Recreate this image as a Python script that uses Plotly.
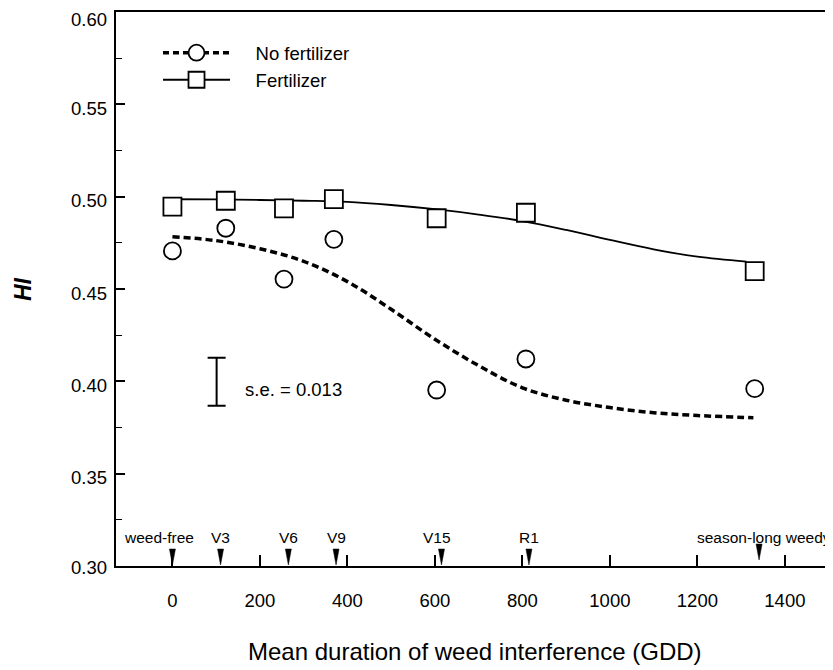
import plotly.graph_objects as go

# ---------------- data ----------------
gdd = [0, 122, 255, 369, 604, 808, 1331]
hi_no_fert = [0.4706, 0.4829, 0.4554, 0.4769, 0.3953, 0.4121, 0.3960]
hi_fert = [0.4946, 0.4978, 0.4937, 0.4987, 0.4883, 0.4913, 0.4597]

# fitted curves
fit_fert_x = [0, 100, 200, 300, 400, 500, 600, 700, 800, 900, 1000, 1100, 1200, 1312]
fit_fert_y = [0.4986, 0.4985, 0.4982, 0.4978, 0.4972, 0.4955, 0.4932, 0.4903, 0.4868,
              0.4820, 0.4766, 0.4715, 0.4675, 0.4648]
fit_nofert_x = [0, 100, 200, 300, 400, 500, 600, 700, 800, 900, 1000, 1100, 1200, 1328]
fit_nofert_y = [0.4783, 0.4762, 0.4718, 0.4650, 0.4540, 0.4390, 0.4228, 0.4085, 0.3965,
                0.3898, 0.3858, 0.3830, 0.3815, 0.3803]

# crop stages
stage_labels = ["weed-free", "V3", "V6", "V9", "V15", "R1", "season-long weedy"]
stage_gdd = [0, 110, 265, 374, 615, 815, 1341]

# standard error
se_value = 0.013
se_x = [101]
se_center = [0.3998]

x_ticks = [0, 200, 400, 600, 800, 1000, 1200, 1400]
y_ticks = [0.30, 0.35, 0.40, 0.45, 0.50, 0.55, 0.60]

# ---------------- style ----------------
FONT = "Liberation Sans, Arial, Helvetica, sans-serif"
label_xshift = [-13, 0, 0, 0, -4, 0, 5]
tip_lift = [0, 0, 0, 0, 0, 0, 5]
ytick_yshift = [-1, -4, -4, -4, -4, -4, -7]
PAD = "\u00a0" * 4

fig = go.Figure()

# fitted curves
fig.add_trace(go.Scatter(
    x=fit_nofert_x, y=fit_nofert_y, mode="lines", line_shape="spline",
    line=dict(color="black", width=3.5, dash="7px,4px"),
    showlegend=False, hoverinfo="skip"))
fig.add_trace(go.Scatter(
    x=fit_fert_x, y=fit_fert_y, mode="lines", line_shape="spline",
    line=dict(color="black", width=1.8),
    showlegend=False, hoverinfo="skip"))

# observed points
fig.add_trace(go.Scatter(
    x=gdd, y=hi_no_fert, mode="markers", name="No fertilizer",
    marker=dict(symbol="circle", size=17, color="white",
                line=dict(color="black", width=1.8)),
    showlegend=False))
fig.add_trace(go.Scatter(
    x=gdd, y=hi_fert, mode="markers", name="Fertilizer",
    marker=dict(symbol="square", size=18, color="white",
                line=dict(color="black", width=1.8)),
    showlegend=False))

# legend-only entries
fig.add_trace(go.Scatter(
    x=[None], y=[None], mode="lines+markers", name=PAD + "No fertilizer",
    line=dict(color="black", width=3.5, dash="6px,4px"),
    marker=dict(symbol="circle", size=17, color="white",
                line=dict(color="black", width=1.8))))
fig.add_trace(go.Scatter(
    x=[None], y=[None], mode="lines+markers", name=PAD + "Fertilizer",
    line=dict(color="black", width=1.8),
    marker=dict(symbol="square", size=18, color="white",
                line=dict(color="black", width=1.8))))

# s.e. bar
fig.add_trace(go.Scatter(
    x=se_x, y=se_center, mode="markers", marker=dict(size=0.1, color="rgba(0,0,0,0)"),
    error_y=dict(type="constant", value=se_value, color="black", thickness=2, width=9),
    showlegend=False, hoverinfo="skip"))

annotations = [
    dict(x=se_x[0], y=se_center[0], xref="x", yref="y", text=f"s.e. = {se_value:.3f}",
         showarrow=False, xanchor="left", yanchor="middle", xshift=26, yshift=-8,
         font=dict(family=FONT, size=18.5, color="black")),
    dict(x=0.5, xref="paper", y=-0.155, yref="paper",
         text="Mean duration of weed interference (GDD)", showarrow=False,
         xanchor="center", yanchor="middle",
         font=dict(family=FONT, size=24, color="black")),
    dict(x=-0.1297, xref="paper", y=0.5, yref="paper", text="<b><i>HI</i></b>",
         showarrow=False, textangle=-90, xanchor="center", yanchor="middle",
         font=dict(family=FONT, size=23, color="black")),
]

# y tick labels (sit slightly below their ticks in the original)
for v, dy in zip(y_ticks, ytick_yshift):
    annotations.append(dict(
        x=0, xref="paper", y=v, yref="y", text=f"{v:.2f}", showarrow=False,
        xanchor="right", yanchor="middle", xshift=-7, yshift=dy,
        font=dict(family=FONT, size=18.5, color="black")))

shapes = []
for lab, g, dx, lift in zip(stage_labels, stage_gdd, label_xshift, tip_lift):
    annotations.append(dict(
        x=g, y=y_ticks[0], xref="x", yref="y", text=lab, showarrow=False,
        xanchor="center", yanchor="middle", yshift=29, xshift=dx,
        font=dict(family=FONT, size=15.5, color="black")))
    shapes.append(dict(
        type="path", xref="x", yref="y", xsizemode="pixel", ysizemode="pixel",
        xanchor=g, yanchor=y_ticks[0],
        path=f"M -3,{17 + lift} L 3,{17 + lift} L 0,{1 + lift} Z",
        fillcolor="black", line=dict(color="black", width=0.5)))

fig.update_layout(
    width=825, height=662,
    margin=dict(l=108, r=0, t=4, b=104),
    paper_bgcolor="white", plot_bgcolor="white",
    font=dict(family=FONT, size=18.5, color="black"),
    showlegend=True,
    legend=dict(x=0.0586, y=0.960, xanchor="left", yanchor="top",
                bgcolor="rgba(0,0,0,0)", font=dict(family=FONT, size=18.5),
                itemwidth=67, tracegroupgap=0),
    annotations=annotations,
    shapes=shapes,
    xaxis=dict(
        range=[-129, 1510], tickvals=x_ticks, ticktext=[str(v) for v in x_ticks],
        ticks="inside", ticklen=11, tickwidth=1.5, tickcolor="black",
        showline=True, linecolor="black", linewidth=2, mirror=True,
        showgrid=False, zeroline=False, ticklabelstandoff=17,
        tickfont=dict(family=FONT, size=18.5, color="black")),
    yaxis=dict(
        range=[0.30, 0.60], tickvals=y_ticks, showticklabels=False,
        ticks="inside", ticklen=9, tickwidth=1.5, tickcolor="black",
        minor=dict(dtick=0.025, tick0=0.30, ticks="inside", ticklen=6,
                   tickwidth=1, tickcolor="black"),
        showline=True, linecolor="black", linewidth=2, mirror=False,
        showgrid=False, zeroline=False),
)

fig.write_html("out.html")
